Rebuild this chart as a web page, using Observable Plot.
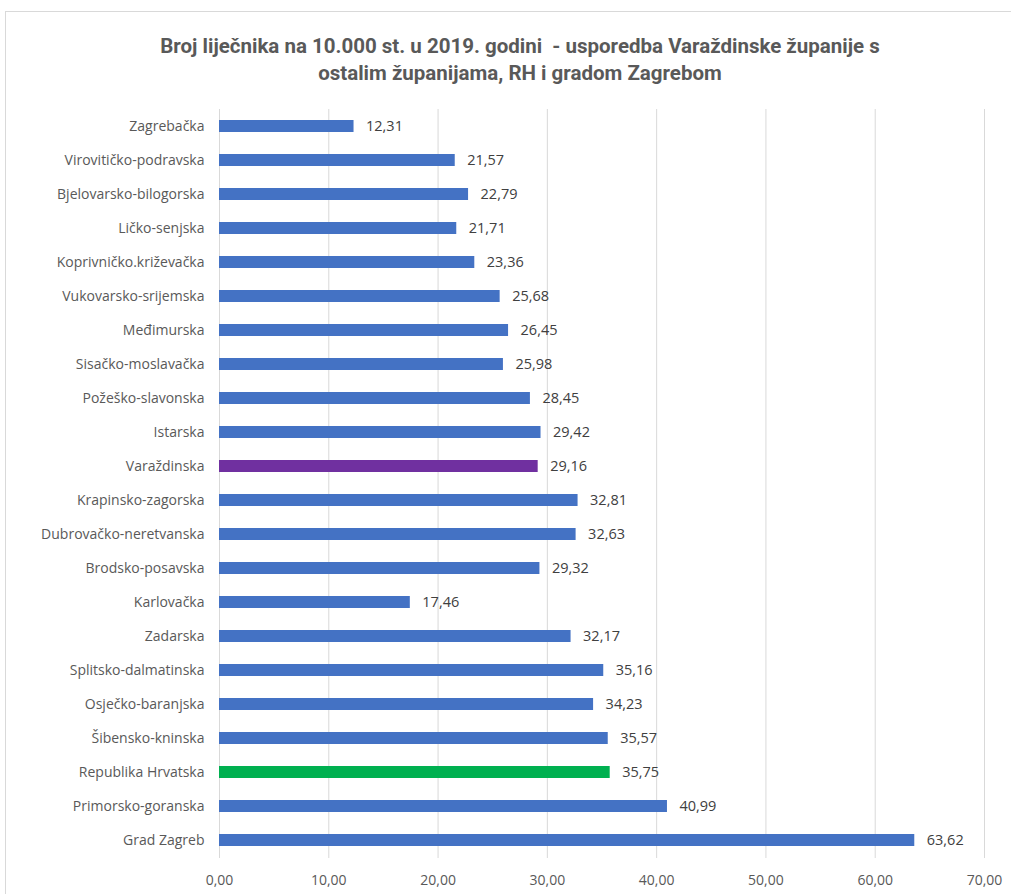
<!DOCTYPE html>
<html>
<head>
<meta charset="utf-8">
<script src="https://cdn.jsdelivr.net/npm/d3@7"></script>
<script src="https://cdn.jsdelivr.net/npm/@observablehq/plot@0.6"></script>
<style>
  html, body { margin: 0; padding: 0; background: #fff; }
  #wrap { position: relative; width: 1011px; height: 894px; overflow: hidden; }
  #frame { position: absolute; left: 5px; top: 11px; width: 1020px; height: 900px; border: 1px solid #d9d9d9; box-sizing: border-box; }
  #title { position: absolute; left: 0; top: 33px; width: 1040px; text-align: center;
           font-family: Roboto, "Open Sans", sans-serif; font-weight: bold; font-size: 20.5px;
           line-height: 27px; color: #595959; }
  #chart { position: absolute; left: 0; top: 0; }
</style>
</head>
<body>
<div id="wrap">
  <div id="frame"></div>
  <div id="chart"></div>
  <div id="title">Broj liječnika na 10.000 st. u 2019. godini&nbsp; - usporedba Varaždinske županije s<br>ostalim županijama, RH i gradom Zagrebom</div>
</div>
<script>
const counties = [
  "Zagrebačka", "Virovitičko-podravska", "Bjelovarsko-bilogorska", "Ličko-senjska",
  "Koprivničko.križevačka", "Vukovarsko-srijemska", "Međimurska", "Sisačko-moslavačka",
  "Požeško-slavonska", "Istarska", "Varaždinska", "Krapinsko-zagorska",
  "Dubrovačko-neretvanska", "Brodsko-posavska", "Karlovačka", "Zadarska",
  "Splitsko-dalmatinska", "Osječko-baranjska", "Šibensko-kninska", "Republika Hrvatska",
  "Primorsko-goranska", "Grad Zagreb"
];
const values = [
  12.31, 21.57, 22.79, 21.71, 23.36, 25.68, 26.45, 25.98, 28.45, 29.42, 29.16, 32.81,
  32.63, 29.32, 17.46, 32.17, 35.16, 34.23, 35.57, 35.75, 40.99, 63.62
];
const xTicks = [0, 10, 20, 30, 40, 50, 60, 70];
const highlight = { "Varaždinska": "#7030a0", "Republika Hrvatska": "#00b050" };
const baseColor = "#4472c4";

const data = counties.map((c, i) => ({ county: c, value: values[i], color: highlight[c] || baseColor }));
const fmt = d => d.toFixed(2).replace(".", ",");

const chart = Plot.plot({
  width: 1011,
  height: 894,
  marginLeft: 219,
  marginRight: 27,
  marginTop: 109,
  marginBottom: 36,
  style: { fontFamily: "'Open Sans', Roboto, sans-serif", fontSize: "14px", color: "#595959", background: "transparent" },
  x: { domain: [0, 70], ticks: xTicks, tickFormat: fmt, label: null },
  y: { domain: counties, paddingInner: 0.64, paddingOuter: 0.32, label: null },
  marks: [
    Plot.gridX(xTicks, { stroke: "#d9d9d9", strokeOpacity: 1, strokeWidth: 1 }),
    Plot.barX(data, { x: "value", y: "county", fill: "color" }),
    Plot.text(data, { x: "value", y: "county", text: d => fmt(d.value), textAnchor: "start", dx: 12, fill: "#404040", fontSize: 14.5 }),
    Plot.axisX({ ticks: xTicks, tickFormat: fmt, tickSize: 0, tickPadding: 17, fill: "#595959", fontSize: 14, label: null }),
    Plot.axisY({ tickSize: 0, tickPadding: 15, fill: "#595959", fontSize: 14, label: null })
  ]
});
document.getElementById("chart").appendChild(chart);
</script>
</body>
</html>
